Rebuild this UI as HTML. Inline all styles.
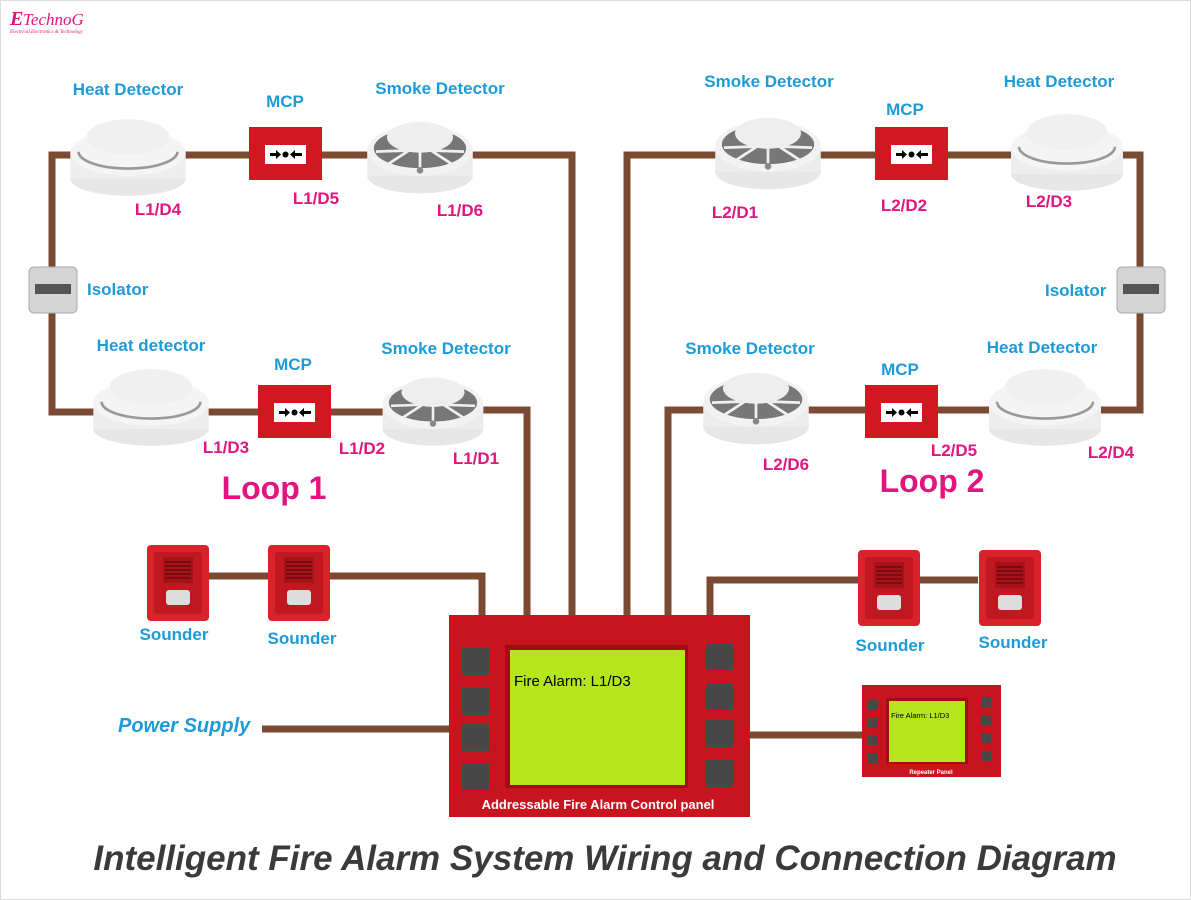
<!DOCTYPE html>
<html><head><meta charset="utf-8"><style>
body{margin:0;background:#fff;}
svg{display:block;}
.b{font-family:"Liberation Sans",sans-serif;font-weight:bold;fill:#1d9bd8;font-size:17px;}
.p{font-family:"Liberation Sans",sans-serif;font-weight:bold;fill:#e2157f;font-size:17px;}
</style></head><body>
<svg width="1191" height="900" viewBox="0 0 1191 900" xmlns="http://www.w3.org/2000/svg">
<defs>
<g id="heat">
<ellipse cx="0" cy="20" rx="56" ry="16" fill="#e6e6e6"/>
<rect x="-56" y="-5" width="112" height="25" fill="#ededed"/>
<ellipse cx="0" cy="-5" rx="56" ry="22" fill="#f4f4f4"/>
<path d="M-48,-6 A48,16 0 0 0 48,-6" fill="none" stroke="#999" stroke-width="2.5"/>
<ellipse cx="0" cy="-20" rx="40" ry="17" fill="#f0f0f0"/>
</g>
<g id="smoke">
<ellipse cx="0" cy="18" rx="48" ry="16" fill="#e6e6e6"/>
<rect x="-48" y="-5" width="96" height="23" fill="#ececec"/>
<ellipse cx="0" cy="-5" rx="48" ry="23" fill="#f2f2f2"/>
<ellipse cx="0" cy="-7" rx="42" ry="18" fill="#777"/>
<path d="M-40,-4 L-10,-5 M40,-4 L10,-5 M-30,8 L-10,-5 M30,8 L10,-5 M0,11 L0,-5" stroke="#f0f0f0" stroke-width="2.5"/>
<ellipse cx="0" cy="-17" rx="30" ry="14" fill="#eee"/>
<circle cx="0" cy="13" r="3" fill="#888"/>
</g>
<g id="mcp">
<rect x="0" y="0" width="73" height="53" fill="#d01820"/>
<rect x="16" y="18" width="41" height="19" fill="#fff"/>
<path d="M21,27.5 h7" stroke="#000" stroke-width="3"/>
<polygon points="27,23 32,27.5 27,32" fill="#000"/>
<circle cx="36.5" cy="27.5" r="3" fill="#000"/>
<path d="M45,27.5 h8" stroke="#000" stroke-width="3"/>
<polygon points="46,23 41,27.5 46,32" fill="#000"/>
</g>
<g id="snd">
<rect x="0" y="0" width="62" height="76" rx="4" fill="#d9232b"/>
<rect x="7" y="7" width="48" height="62" rx="3" fill="#c01820"/>
<rect x="16" y="12" width="30" height="26" fill="#a51218"/>
<path d="M18,17h26M18,21h26M18,25h26M18,29h26M18,33h26" stroke="#6a0a0e" stroke-width="1.5"/>
<rect x="19" y="45" width="24" height="15" rx="3" fill="#ddd"/>
</g>
</defs>
<rect x="0.5" y="0.5" width="1190" height="899" fill="#fff" stroke="#ddd"/>
<text x="10" y="25" font-family="Liberation Serif,serif" font-style="italic" font-weight="bold" font-size="20" fill="#e2157f">E</text>
<text x="23" y="25" font-family="Liberation Serif,serif" font-style="italic" font-size="17" fill="#e2157f">TechnoG</text>
<text x="10" y="33" font-family="Liberation Serif,serif" font-style="italic" font-size="5" fill="#e2157f">Electrical,Electronics &amp; Technology</text>

<g stroke="#7b4a32" stroke-width="7" fill="none">
<path d="M572,615 V155 H52 V412 H390"/>
<path d="M390,410 H527 V615"/>
<path d="M627,615 V155 H1140 V410 H668 V615"/>
<path d="M482,615 V576 H208"/>
<path d="M710,615 V580 H978"/>
<path d="M262,729 H449"/>
<path d="M750,735 H862"/>
</g>

<use href="#heat" transform="translate(128,158) scale(1.03,1.05)"/>
<use href="#mcp" x="249" y="127"/>
<use href="#smoke" transform="translate(420,156) scale(1.1)"/>
<use href="#heat" transform="translate(151,408) scale(1.03,1.05)"/>
<use href="#mcp" x="258" y="385"/>
<use href="#smoke" transform="translate(433,410) scale(1.05)"/>
<use href="#smoke" transform="translate(768,152) scale(1.1)"/>
<use href="#mcp" x="875" y="127"/>
<use href="#heat" transform="translate(1067,153) scale(1.0,1.05)"/>
<use href="#smoke" transform="translate(756,407) scale(1.1)"/>
<use href="#mcp" x="865" y="385"/>
<use href="#heat" transform="translate(1045,408) scale(1.0,1.05)"/>

<rect x="29" y="267" width="48" height="46" rx="5" fill="#d4d4d4" stroke="#aaa"/>
<rect x="35" y="284" width="36" height="10" fill="#555"/>
<rect x="1117" y="267" width="48" height="46" rx="5" fill="#d4d4d4" stroke="#aaa"/>
<rect x="1123" y="284" width="36" height="10" fill="#555"/>

<use href="#snd" x="147" y="545"/>
<use href="#snd" x="268" y="545"/>
<use href="#snd" x="858" y="550"/>
<use href="#snd" x="979" y="550"/>

<rect x="449" y="615" width="301" height="202" fill="#c8141e"/>
<rect x="505" y="645" width="183" height="143" fill="#9e0e14"/>
<rect x="510" y="650" width="175" height="135" fill="#b5e61d"/>
<g fill="#474747">
<rect x="462" y="648" width="27" height="27"/><rect x="462" y="688" width="27" height="27"/><rect x="462" y="724" width="27" height="27"/><rect x="462" y="763" width="27" height="27"/>
<rect x="706" y="643" width="27" height="27"/><rect x="706" y="683" width="27" height="27"/><rect x="706" y="720" width="27" height="27"/><rect x="706" y="760" width="27" height="27"/>
</g>
<text x="514" y="686" font-family="Liberation Sans,sans-serif" font-size="15" fill="#000">Fire Alarm: L1/D3</text>
<text x="598" y="809" text-anchor="middle" font-family="Liberation Sans,sans-serif" font-weight="bold" font-size="13" fill="#fff">Addressable Fire Alarm Control panel</text>

<rect x="862" y="685" width="139" height="92" fill="#c8141e"/>
<rect x="886" y="698" width="82" height="66" fill="#9e0e14"/>
<rect x="889" y="701" width="76" height="61" fill="#b5e61d"/>
<g fill="#474747">
<rect x="868" y="700" width="10" height="10"/><rect x="868" y="718" width="10" height="10"/><rect x="868" y="735" width="10" height="10"/><rect x="868" y="753" width="10" height="10"/>
<rect x="981" y="697" width="10" height="10"/><rect x="981" y="715" width="10" height="10"/><rect x="981" y="733" width="10" height="10"/><rect x="981" y="751" width="10" height="10"/>
</g>
<text x="891" y="718" font-family="Liberation Sans,sans-serif" font-size="7.5" fill="#000">Fire Alarm: L1/D3</text>
<text x="931" y="774" text-anchor="middle" font-family="Liberation Sans,sans-serif" font-weight="bold" font-size="6" fill="#fff">Repeater Panel</text>

<text class="b" x="128" y="95" text-anchor="middle">Heat Detector</text>
<text class="b" x="285" y="107" text-anchor="middle">MCP</text>
<text class="b" x="440" y="94" text-anchor="middle">Smoke Detector</text>
<text class="p" x="158" y="215" text-anchor="middle">L1/D4</text>
<text class="p" x="316" y="204" text-anchor="middle">L1/D5</text>
<text class="p" x="460" y="216" text-anchor="middle">L1/D6</text>
<text class="b" x="87" y="295">Isolator</text>
<text class="b" x="151" y="351" text-anchor="middle">Heat detector</text>
<text class="b" x="293" y="370" text-anchor="middle">MCP</text>
<text class="b" x="446" y="354" text-anchor="middle">Smoke Detector</text>
<text class="p" x="226" y="453" text-anchor="middle">L1/D3</text>
<text class="p" x="362" y="454" text-anchor="middle">L1/D2</text>
<text class="p" x="476" y="464" text-anchor="middle">L1/D1</text>
<text x="274" y="499" text-anchor="middle" font-family="Liberation Sans,sans-serif" font-weight="bold" font-size="32" fill="#e2157f">Loop 1</text>

<text class="b" x="769" y="87" text-anchor="middle">Smoke Detector</text>
<text class="b" x="905" y="115" text-anchor="middle">MCP</text>
<text class="b" x="1059" y="87" text-anchor="middle">Heat Detector</text>
<text class="p" x="735" y="218" text-anchor="middle">L2/D1</text>
<text class="p" x="904" y="211" text-anchor="middle">L2/D2</text>
<text class="p" x="1049" y="207" text-anchor="middle">L2/D3</text>
<text class="b" x="1045" y="296">Isolator</text>
<text class="b" x="750" y="354" text-anchor="middle">Smoke Detector</text>
<text class="b" x="900" y="375" text-anchor="middle">MCP</text>
<text class="b" x="1042" y="353" text-anchor="middle">Heat Detector</text>
<text class="p" x="786" y="470" text-anchor="middle">L2/D6</text>
<text class="p" x="954" y="456" text-anchor="middle">L2/D5</text>
<text class="p" x="1111" y="458" text-anchor="middle">L2/D4</text>
<text x="932" y="492" text-anchor="middle" font-family="Liberation Sans,sans-serif" font-weight="bold" font-size="32" fill="#e2157f">Loop 2</text>

<text class="b" x="174" y="640" text-anchor="middle">Sounder</text>
<text class="b" x="302" y="644" text-anchor="middle">Sounder</text>
<text class="b" x="890" y="651" text-anchor="middle">Sounder</text>
<text class="b" x="1013" y="648" text-anchor="middle">Sounder</text>
<text x="118" y="732" font-family="Liberation Sans,sans-serif" font-weight="bold" font-style="italic" font-size="20" fill="#1d9bd8">Power Supply</text>

<text x="605" y="870" text-anchor="middle" font-family="Liberation Sans,sans-serif" font-weight="bold" font-style="italic" font-size="35" fill="#3a3a3a">Intelligent Fire Alarm System Wiring and Connection Diagram</text>
</svg>
</body></html>
